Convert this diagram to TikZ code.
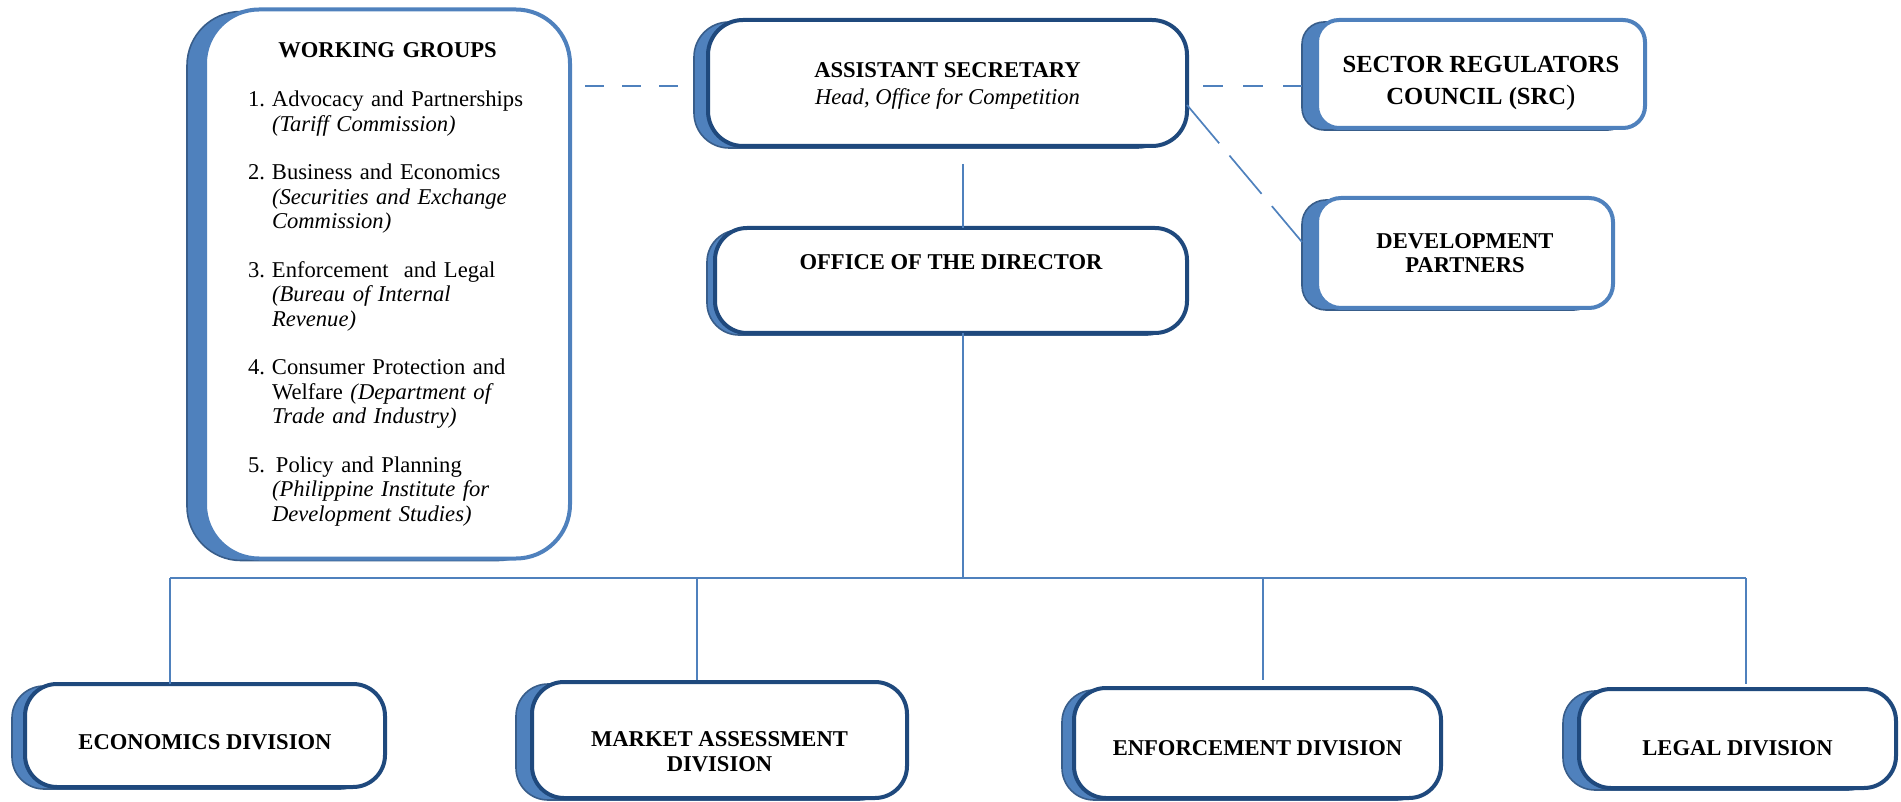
\documentclass[tikz,border=0pt]{standalone}
\usepackage{fontspec}
\setmainfont{Liberation Serif}
\usetikzlibrary{shadows}
\definecolor{rimdark}{HTML}{1F497D}
\definecolor{rimlight}{HTML}{4F81BD}
\definecolor{slabfill}{HTML}{4F81BD}
\definecolor{slabedge}{HTML}{385D8A}
\newcommand\grp[2][12pt]{\makebox[#1][l]{#2}}
\newcommand\hang{\hspace*{12pt}}
\tikzset{>=stealth,
  unit/.style={draw=rimdark, line width=2pt, fill=white, outer sep=0pt,
    rounded corners=16pt, align=center,
    font=\fontsize{11.3}{12.25}\selectfont\bfseries,
    general shadow={fill=slabfill, draw=slabedge, line width=0.8pt,
      shadow xshift=#1, shadow yshift=-1pt}},
  unit/.default=-7pt,
  partner/.style={unit=#1, draw=rimlight, rounded corners=11pt},
  partner/.default=-7.5pt,
  link/.style={draw=rimlight, line width=0.85pt}}

\begin{document}
\begin{tikzpicture}[x=0.5pt,y=-0.5pt]
\useasboundingbox (0,0) rectangle (1901,802);

\node[partner=-9pt, rounded corners=27pt, minimum width=182.5pt, minimum height=274.5pt,
  text width=139.5pt, align=left, font=\fontsize{11.3}{12.25}\selectfont] (groups) at (387.5,284)
  {\makebox[\linewidth]{\bfseries WORKING GROUPS}\\[12.5pt]
   \grp{1.}Advocacy and Partnerships\\
   \hang\textit{(Tariff Commission)}\\[12pt]
   \grp{2.}Business and Economics\\
   \hang\textit{(Securities and Exchange}\\
   \hang\textit{Commission)}\\[12pt]
   \grp{3.}Enforcement\ \ and Legal\\
   \hang\textit{(Bureau of Internal}\\
   \hang\textit{Revenue)}\\[12pt]
   \grp{4.}Consumer Protection and\\
   \hang Welfare \textit{(Department of}\\
   \hang\textit{Trade and Industry)}\\[12pt]
   \grp[14pt]{5.}Policy and Planning\\
   \hang\textit{(Philippine Institute for}\\
   \hang\textit{Development Studies)}};

\node[unit=-7pt, rounded corners=17.5pt, minimum width=239.5pt, minimum height=63pt, text height=24pt] (asec) at (947.5,83)
  {ASSISTANT SECRETARY\\[1.25pt]\textmd{\textit{Head, Office for Competition}}};
\node[unit=-4pt, minimum width=236pt, minimum height=52.5pt, text depth=18.5pt] (dir) at (951,280.5)
  {OFFICE OF THE DIRECTOR};
\node[partner, minimum width=164pt, minimum height=54pt, text height=33pt,
  font=\fontsize{12.3}{13.3}\selectfont\bfseries] (src) at (1481,74)
  {SECTOR REGULATORS\\[2.7pt]COUNCIL (SRC{\mdseries\fontsize{14}{14}\selectfont)}};
\node[partner, rounded corners=12pt, minimum width=148pt, minimum height=55pt] (dev) at (1465,253)
  {DEVELOPMENT\\PARTNERS};

\node[unit=-6.5pt, minimum width=180pt, minimum height=51.5pt, text height=14pt] (eco) at (205,735.5)
  {ECONOMICS DIVISION};
\node[unit=-8pt, minimum width=187.5pt, minimum height=58pt, text height=31.25pt] (mkt) at (719.5,740)
  {MARKET ASSESSMENT\\DIVISION};
\node[unit=-6pt, minimum width=183.5pt, minimum height=55pt, text height=12.5pt] (enf) at (1257.5,743)
  {ENFORCEMENT DIVISION};
\node[unit=-8pt, minimum width=158.5pt, minimum height=49.5pt, text height=17pt] (leg) at (1737.5,738.5)
  {LEGAL DIVISION};

\draw[link, dash pattern=on 9.5pt off 9pt] ([xshift=7.5pt,yshift=-1.5pt]groups.east |- asec.west)
  -- ([xshift=-15pt,yshift=-1.5pt]asec.west);
\draw[link, dash pattern=on 10pt off 10pt] ([xshift=8pt,yshift=-1.5pt]asec.east)
  -- ([xshift=-7.5pt,yshift=-1.5pt]src.west |- asec.east);
\draw[link, dash pattern=on 25pt off 8pt] ([yshift=-11pt]asec.east) -- ([xshift=-7.5pt,yshift=5.5pt]dev.west);

\coordinate (bus) at (963,578);
\draw[link] ([yshift=-9pt]bus |- asec.south) -- (bus |- dir.north);
\draw[link] (bus |- dir.south) -- (bus);
\draw[link] ([xshift=-17.5pt]eco.north |- bus) -- ([xshift=4.25pt]leg.north |- bus);
\foreach \n/\dx/\gap in {eco/-17.5pt/0pt, mkt/-11.25pt/1pt, enf/2.75pt/4pt, leg/4.25pt/2.5pt}
  \draw[link] ([xshift=\dx]\n.north |- bus) -- ([xshift=\dx,yshift=\gap]\n.north);
\end{tikzpicture}
\end{document}
